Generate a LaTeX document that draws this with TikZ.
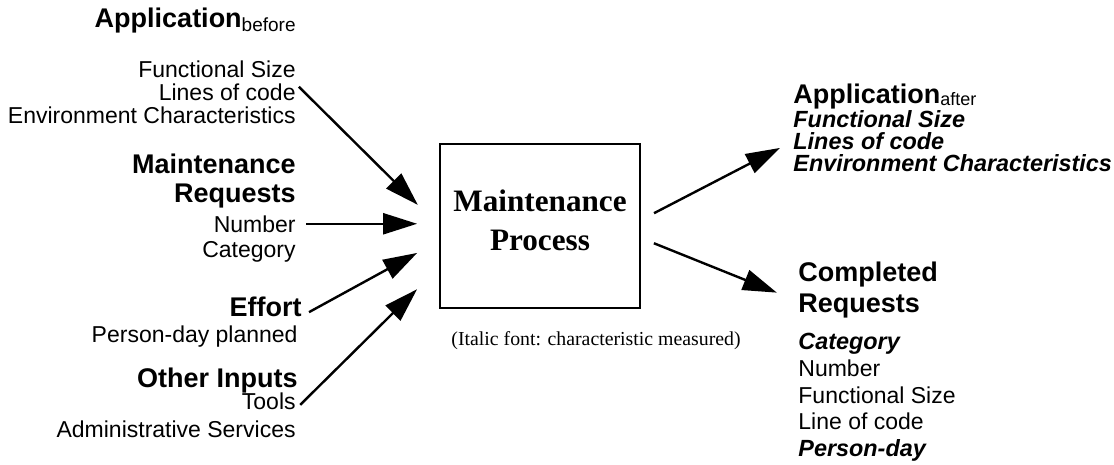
\documentclass[tikz,border=0pt]{standalone}
\usepackage{fontspec}
\setmainfont{Liberation Sans}
\newfontfamily\timesfont{Liberation Serif}
\usetikzlibrary{calc,positioning,arrows.meta}

\tikzset{
    lineitem/.style={inner sep=0pt, font=\fontsize{11.5}{12}\selectfont},
    measitem/.style={inner sep=0pt, font=\fontsize{11.7}{12}\selectfont\bfseries\itshape},
    heading/.style={inner sep=0pt, font=\fontsize{13.5}{15}\selectfont\bfseries},
    flow/.style={-{Triangle[length=17pt,width=10.5pt]}, line width=1.2pt},
    procbox/.style={draw, line width=0.9pt, minimum width=100pt, minimum height=82pt,
        align=center, font=\timesfont\fontsize{15.6}{19.5}\selectfont\bfseries}
}

\begin{document}
\begin{tikzpicture}[x=0.5pt, y=-0.5pt]
\useasboundingbox (0,0) rectangle (1114,465);

% Process box
\node[procbox] (box) at (540,226) {Maintenance\\Process\\[-14pt]};
\node[anchor=base, font=\timesfont\fontsize{9.9}{10}\selectfont] (note) at (596,345)
    {(Italic font: characteristic measured)};

% Inputs (left)
\node[heading, anchor=base east] (appb) at (296,28)
    {Application\raisebox{-2pt}{\fontsize{9.5}{9.5}\selectfont\mdseries before}};
\foreach \nm/\y/\txt in {bfs/78/Functional Size, bloc/101/Lines of code,
                         benv/124/Environment Characteristics}
    \node[lineitem, anchor=base east] (\nm) at (296,\y) {\txt};

\node[heading, anchor=base east] (mreq) at (296,174) {Maintenance};
\node[heading, anchor=base east] (mreq2) at (296,202) {Requests};
\node[lineitem, anchor=base east] (bnum) at (296,232) {Number};
\node[lineitem, anchor=base east] (bcat) at (296,257) {Category};

\node[heading, anchor=base east] (eff) at (302,316) {Effort};
\node[lineitem, anchor=base east] (pday) at (298,342) {Person-day planned};

\node[heading, anchor=base east] (other) at (298,387) {Other Inputs};
\node[lineitem, anchor=base east] (tools) at (296,409) {Tools};
\node[lineitem, anchor=base east] (admin) at (296,437) {Administrative Services};

% Outputs (right)
\node[heading, anchor=base west] (appa) at (793,104)
    {Application\raisebox{-1pt}{\fontsize{9}{9}\selectfont\mdseries after}};
\foreach \nm/\y/\txt in {afs/127.5/Functional Size, aloc/149.5/Lines of code,
                         aenv/171.5/Environment Characteristics}
    \node[measitem, anchor=base west] (\nm) at (793,\y) {\txt};

\node[heading, anchor=base west] (creq) at (798,281) {Completed};
\node[heading, anchor=base west] (creq2) at (798,312) {Requests};
\node[measitem, anchor=base west] (ccat) at (798,349) {Category};
\foreach \nm/\y/\txt in {cnum/376/Number, cfs/403/Functional Size, cloc/429/Line of code}
    \node[lineitem, anchor=base west] (\nm) at (798,\y) {\txt};
\node[measitem, anchor=base west] (cpday) at (798,456) {Person-day};

% Arrows into the process
\draw[flow, shorten <=2pt, shorten >=15pt] (bloc.north east) -- (box.west);
\draw[flow, shorten <=5pt, shorten >=11pt] (bnum.east) -- (bnum.east -| box.west);
\draw[flow, shorten <=4pt, shorten >=12.5pt] (eff.base east)
    -- ($(box.north west)!0.59!(box.south west)$);
\draw[flow, shorten <=3pt, shorten >=15.5pt] (tools.base east)
    -- ($(box.north west)!0.75!(box.south west)$);

% Arrows out of the process
\draw[flow, shorten <=7.4pt, shorten >=7.4pt] ([yshift=3pt]box.east) -- (aloc.west);
\draw[flow, shorten <=7pt, shorten >=11.4pt] ([yshift=-6pt]box.east)
    -- ($(creq.base west)!0.65!(creq2.base west)$);

\end{tikzpicture}
\end{document}
